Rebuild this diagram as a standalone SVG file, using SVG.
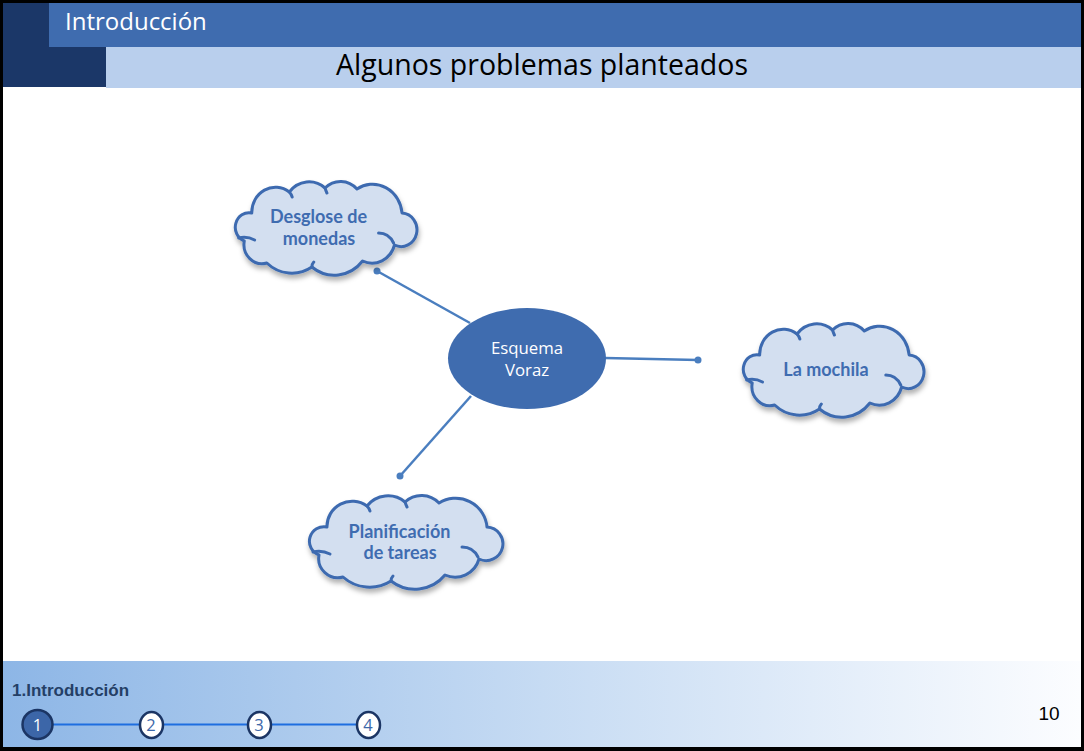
<svg xmlns="http://www.w3.org/2000/svg" width="1084" height="751" viewBox="0 0 1084 751">
<style>
.cloud{fill:#d3dff0;stroke:#3d6bb0;stroke-width:3;stroke-linejoin:round}
.inner{fill:none;stroke:#3d6bb0;stroke-width:3;stroke-linecap:round}
.ctext{font-family:Lato,"Open Sans",sans-serif;font-weight:bold;font-size:18px;fill:#3f6cb0;text-anchor:middle}
.reg{font-family:"Open Sans",Lato,sans-serif}
.conn{stroke:#4a7ebf;stroke-width:2.5;fill:none}
.dot{fill:#4a7ebf}
.step{fill:#ffffff;stroke:#1b3564;stroke-width:2.5}
.stepnum{font-family:"Open Sans",Lato,sans-serif;font-size:16.5px;fill:#3d68aa;text-anchor:middle}
</style>
<defs>
<linearGradient id="foot" x1="0" y1="0" x2="1" y2="0">
<stop offset="0" stop-color="#8db6e6"/>
<stop offset="0.5" stop-color="#c6dbf3"/>
<stop offset="1" stop-color="#fcfdff"/>
</linearGradient>
<filter id="sh" x="-10%" y="-10%" width="130%" height="140%">
<feDropShadow dx="1" dy="4" stdDeviation="2.5" flood-color="#000" flood-opacity="0.3"/>
</filter>
<g id="cloudshape">
<path class="cloud" vector-effect="non-scaling-stroke" d="M 20,30 A 25.2,25.2 0 0 1 60,9 A 26.8,26.8 0 0 1 98,5 A 24.1,24.1 0 0 1 132,6 A 31.5,31.5 0 0 1 180,30 A 16.8,16.8 0 1 1 172,62 A 24.8,24.8 0 0 1 138,78 A 39,39 0 0 1 84,84 A 40,40 0 0 1 36,80 A 19.2,19.2 0 0 1 12,58 A 14.6,14.6 0 0 1 20,30 Z"/>
<path class="inner" vector-effect="non-scaling-stroke" d="M 155,50 Q 166,50 171,60 M 6,55 Q 15,53 23,57 M 98,5 Q 99,8 100,10 M 84,84 Q 84,81 86,79 M 60,9 Q 62,11 63,14"/>
</g>
</defs>
<rect x="0" y="0" width="1084" height="751" fill="#000"/>
<rect x="3" y="3" width="1078" height="744" fill="#fff"/>
<g id="header">
<rect x="3" y="3" width="103" height="84" fill="#1b3768"/>
<rect x="49" y="3" width="1032" height="44" fill="#3f6caf"/>
<rect x="106" y="47" width="975" height="41" fill="#b9cfed"/>
<text class="reg" x="65" y="30" font-size="24" fill="#fff">Introducción</text>
<text class="reg" x="542" y="75" font-size="28.5" fill="#000" text-anchor="middle">Algunos problemas planteados</text>
</g>
<g id="connectors">
<line class="conn" x1="470" y1="323" x2="377" y2="271"/>
<circle class="dot" cx="377" cy="271" r="3.5"/>
<line class="conn" x1="605" y1="358" x2="698" y2="360"/>
<circle class="dot" cx="698" cy="360" r="3.5"/>
<line class="conn" x1="471" y1="396" x2="400" y2="476"/>
<circle class="dot" cx="400" cy="476" r="3.5"/>
</g>
<g id="center">
<ellipse cx="527" cy="358.5" rx="79" ry="50.5" fill="#3f6caf"/>
<text class="reg" x="527" y="354" font-size="16.8" fill="#fff" text-anchor="middle">Esquema</text>
<text class="reg" x="527" y="376" font-size="16.8" fill="#fff" text-anchor="middle">Voraz</text>
</g>
<g id="cloud-monedas">
<g filter="url(#sh)"><use href="#cloudshape" transform="translate(233,183) scale(0.939,1)"/></g>
<text class="ctext" x="318.5" y="223">Desglose de</text>
<text class="ctext" x="319" y="245">monedas</text>
</g>
<g id="cloud-mochila">
<g filter="url(#sh)"><use href="#cloudshape" transform="translate(741,325) scale(0.934,1)"/></g>
<text class="ctext" x="826" y="376">La mochila</text>
</g>
<g id="cloud-tareas">
<g filter="url(#sh)"><use href="#cloudshape" transform="translate(307,497)"/></g>
<text class="ctext" x="399.5" y="538">Planificación</text>
<text class="ctext" x="400" y="559">de tareas</text>
</g>
<g id="footer">
<rect x="3" y="661" width="1078" height="86" fill="url(#foot)"/>
<text x="12" y="696" font-family="'Liberation Sans',Arial,sans-serif" font-weight="bold" font-size="17" fill="#243f66">1.Introducción</text>
<line x1="52" y1="724.5" x2="357" y2="724.5" stroke="#1e6ee0" stroke-width="2"/>
<ellipse cx="37.5" cy="724.5" rx="15" ry="14.5" fill="#3c66a8" stroke="#1b3564" stroke-width="2.5"/>
<text x="37.5" y="731" font-family="'Open Sans',Lato,sans-serif" font-size="16.5" fill="#fff" text-anchor="middle">1</text>
<ellipse class="step" cx="151.5" cy="725" rx="11.5" ry="13"/>
<text class="stepnum" x="151" y="731">2</text>
<ellipse class="step" cx="259.5" cy="725" rx="11.5" ry="13"/>
<text class="stepnum" x="259" y="731">3</text>
<ellipse class="step" cx="368.5" cy="725" rx="11.5" ry="13"/>
<text class="stepnum" x="368" y="731">4</text>
<text x="1049" y="720" font-family="'Liberation Sans',Arial,sans-serif" font-size="19" fill="#000" text-anchor="middle">10</text>
</g>
</svg>
